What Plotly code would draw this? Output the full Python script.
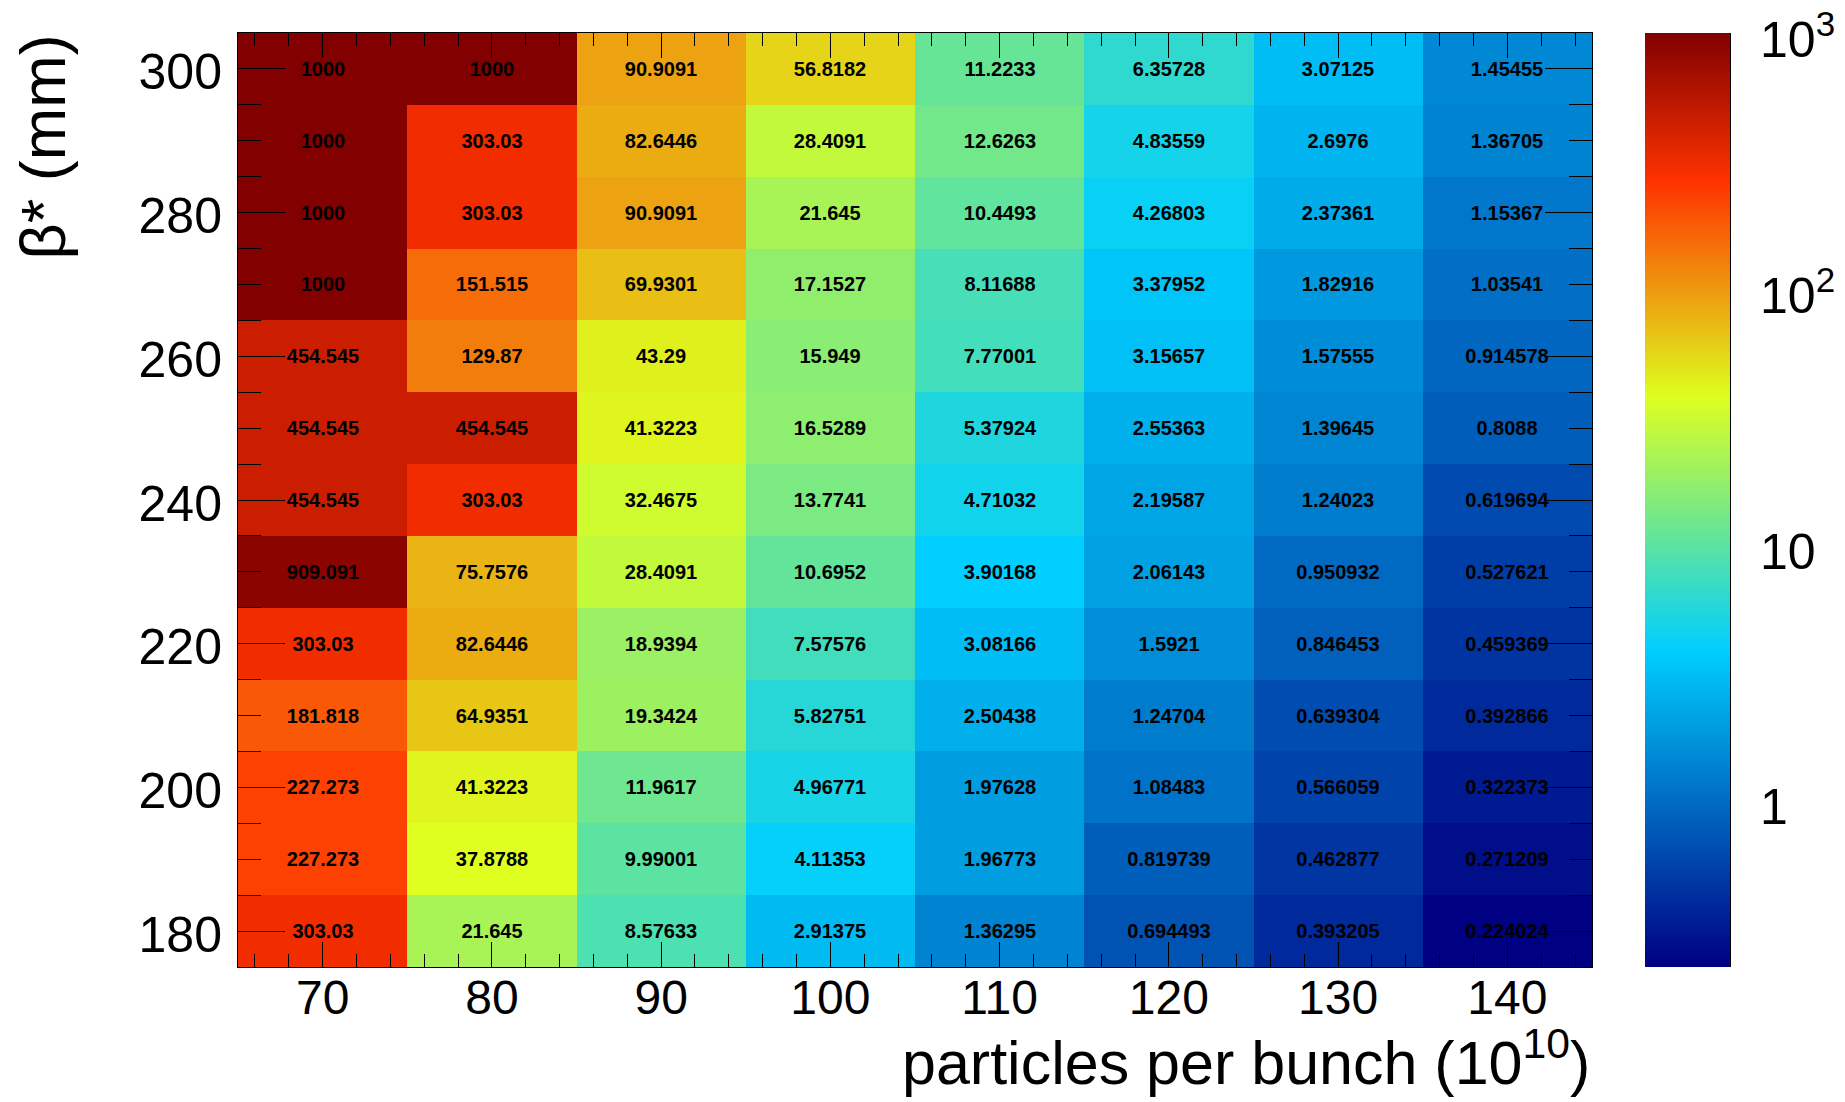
import math
import plotly.graph_objects as go

# particles per bunch (10^10)
particles = [70, 80, 90, 100, 110, 120, 130, 140]
# beta* (mm)
beta = [180, 190, 200, 210, 220, 230, 240, 250, 260, 270, 280, 290, 300]

# one list per beta* row (values across particles 70..140)
row_180 = [303.03, 21.645, 8.57633, 2.91375, 1.36295, 0.694493, 0.393205, 0.224024]
row_190 = [227.273, 37.8788, 9.99001, 4.11353, 1.96773, 0.819739, 0.462877, 0.271209]
row_200 = [227.273, 41.3223, 11.9617, 4.96771, 1.97628, 1.08483, 0.566059, 0.322373]
row_210 = [181.818, 64.9351, 19.3424, 5.82751, 2.50438, 1.24704, 0.639304, 0.392866]
row_220 = [303.03, 82.6446, 18.9394, 7.57576, 3.08166, 1.5921, 0.846453, 0.459369]
row_230 = [909.091, 75.7576, 28.4091, 10.6952, 3.90168, 2.06143, 0.950932, 0.527621]
row_240 = [454.545, 303.03, 32.4675, 13.7741, 4.71032, 2.19587, 1.24023, 0.619694]
row_250 = [454.545, 454.545, 41.3223, 16.5289, 5.37924, 2.55363, 1.39645, 0.8088]
row_260 = [454.545, 129.87, 43.29, 15.949, 7.77001, 3.15657, 1.57555, 0.914578]
row_270 = [1000, 151.515, 69.9301, 17.1527, 8.11688, 3.37952, 1.82916, 1.03541]
row_280 = [1000, 303.03, 90.9091, 21.645, 10.4493, 4.26803, 2.37361, 1.15367]
row_290 = [1000, 303.03, 82.6446, 28.4091, 12.6263, 4.83559, 2.6976, 1.36705]
row_300 = [1000, 1000, 90.9091, 56.8182, 11.2233, 6.35728, 3.07125, 1.45455]

rows = [row_180, row_190, row_200, row_210, row_220, row_230, row_240,
        row_250, row_260, row_270, row_280, row_290, row_300]

z_min = 0.224024
z_max = 1000.0

cbar_tick_vals = [1, 10, 100, 1000]
cbar_tick_text = ["1", "10", "10<sup>2</sup>", "10<sup>3</sup>"]

zlog = [[math.log10(v) for v in r] for r in rows]
text = [[f"{v:g}" for v in r] for r in rows]

lo, hi = math.log10(z_min), math.log10(z_max)

colorscale = [
    [0.00, "rgb(0,0,130)"],
    [0.34, "rgb(0,207,255)"],
    [0.61, "rgb(222,255,31)"],
    [0.84, "rgb(255,51,0)"],
    [1.00, "rgb(130,0,0)"],
]

FONT = "Liberation Sans, Arial, Helvetica, sans-serif"

W, H = 1845, 1102
ml, mr, mt, mb = 238, 0, 33, 135
pw = W - ml - mr
ph = H - mt - mb
plot_right_px = 1592
dom_end = (plot_right_px - ml) / pw
cb_left = (1645 - ml) / pw
cb_right = (1730 - ml) / pw

fig = go.Figure()
fig.add_trace(go.Heatmap(
    x=particles, y=beta, z=zlog, text=text, texttemplate="%{text}",
    textfont=dict(family=FONT, size=20, color="black", weight="bold"),
    colorscale=colorscale, zmin=lo, zmax=hi, hoverinfo="skip",
    colorbar=dict(x=cb_left, xanchor="left", thickness=85, thicknessmode="pixels",
                  len=1, lenmode="fraction", y=0.5, yanchor="middle",
                  xpad=0, ypad=0, outlinewidth=0, showticklabels=False, ticks=""),
))

# colour-bar axis (log scale ticks) drawn as a free axis
minor_vals = []
for e in range(-1, 3):
    for k in range(2, 10):
        v = k * 10 ** e
        if z_min <= v <= z_max:
            minor_vals.append(math.log10(v))

fig.add_trace(go.Scatter(x=[None], y=[None], yaxis="y2", showlegend=False,
                         hoverinfo="skip"))

fig.update_layout(
    width=W, height=H,
    margin=dict(l=ml, r=mr, t=mt, b=mb, pad=0, autoexpand=False),
    paper_bgcolor="white", plot_bgcolor="white",
    font=dict(family=FONT, color="black"),
    showlegend=False,
    xaxis=dict(domain=[0, dom_end], range=[65, 145], tickmode="linear", tick0=0, dtick=10,
               ticks="inside", ticklen=25, tickcolor="black", tickwidth=1,
               minor=dict(dtick=2, tick0=0, ticks="inside", ticklen=13, tickcolor="black"),
               showline=True, linecolor="black", linewidth=1, mirror="ticks",
               showgrid=False, zeroline=False, tickfont=dict(size=48),
               ticklabelstandoff=-12, automargin=False),
    yaxis=dict(range=[175, 305], tickmode="linear", tick0=0, dtick=20,
               ticks="inside", ticklen=47, tickcolor="black", tickwidth=1,
               minor=dict(dtick=5, tick0=0, ticks="inside", ticklen=23, tickcolor="black"),
               showline=True, linecolor="black", linewidth=1, mirror="ticks",
               showgrid=False, zeroline=False, tickfont=dict(size=50),
               ticklabelstandoff=5, ticklabelshift=3, automargin=False),
    yaxis2=dict(overlaying="y", anchor="free", position=cb_right, side="right",
                range=[lo, hi + 0.002], tickmode="array",
                tickvals=[math.log10(v) for v in cbar_tick_vals], ticktext=cbar_tick_text,
                ticks="inside", ticklen=46, tickcolor="black", tickwidth=1,
                minor=dict(tickmode="array", tickvals=minor_vals, ticks="inside",
                           ticklen=23, tickcolor="black"),
                showline=True, linecolor="black", linewidth=1,
                showgrid=False, zeroline=False, tickfont=dict(size=50),
                ticklabelstandoff=19, ticklabelshift=6, ticklabeloverflow="allow",
                automargin=False),
    annotations=[
        dict(text="particles per bunch (10<sup>10</sup>)", xref="paper", yref="paper",
             x=dom_end, y=(967 - 1058) / ph, xanchor="right", yanchor="middle",
             showarrow=False, font=dict(size=61)),
        dict(text="β* (mm)", xref="paper", yref="paper", textangle=-90,
             x=(42 - ml) / pw, y=1, xanchor="center", yanchor="top",
             showarrow=False, font=dict(size=63)),
    ],
)

fig.write_html("out.html")
